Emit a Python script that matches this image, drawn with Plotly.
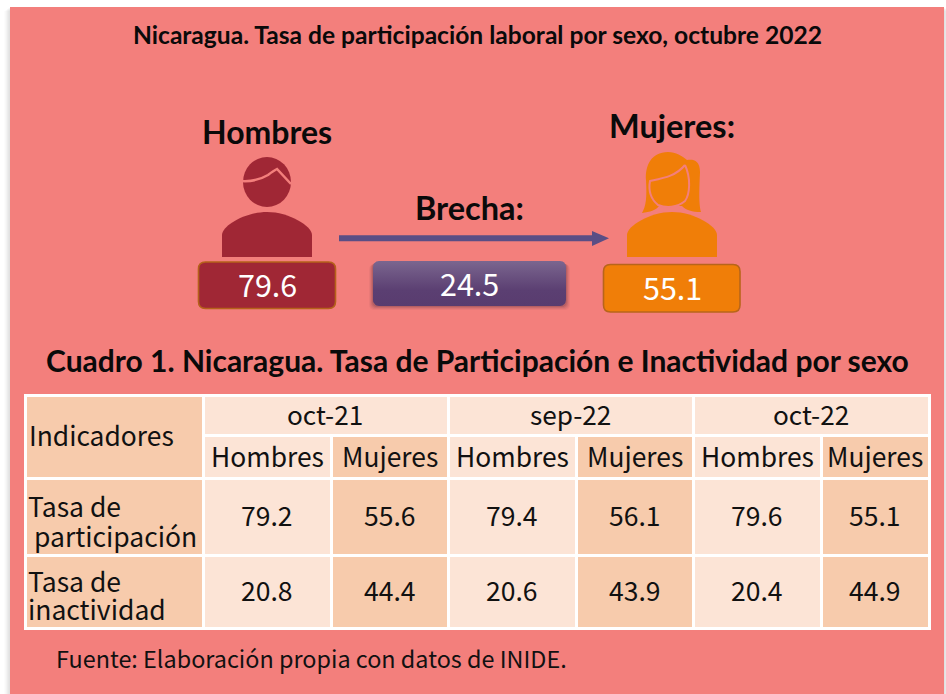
import numpy as np
import plotly.graph_objects as go

TITLE = "Nicaragua. Tasa de participación laboral por sexo, octubre 2022"
HEADING = "Cuadro 1. Nicaragua. Tasa de Participación e Inactividad por sexo"
SOURCE = "Fuente: Elaboración propia con datos de INIDE."
FIG_LABELS = ["Hombres", "Brecha:", "Mujeres:"]
FIG_VALUES = ["79.6", "24.5", "55.1"]
PERIODS = ["oct-21", "sep-22", "oct-22"]
SEXES = ["Hombres", "Mujeres"]
CORNER = "Indicadores"
ROW_LABELS = [["Tasa de", " participación"], ["Tasa de", "inactividad"]]
PARTICIPATION = ["79.2", "55.6", "79.4", "56.1", "79.6", "55.1"]
INACTIVITY = ["20.8", "44.4", "20.6", "43.9", "20.4", "44.9"]

BG = "#F37F7C"
DARK = "#F7CBAC"
LIGHT = "#FCE4D6"
RED = "#A02735"
ORANGE = "#F07E08"
PURPLE = "#5A4E85"
BODY_FONT = "Noto Sans CJK JP"
BOLD_FONT = "Lato"

shapes, ann = [], []


def rect(x0, y0, x1, y1, fill, line=None, lw=0):
    shapes.append(dict(type="rect", x0=x0, y0=y0, x1=x1, y1=y1, fillcolor=fill,
                       line=dict(color=line or fill, width=lw), layer="below"))


def path(d, fill="rgba(0,0,0,0)", line=None, lw=0):
    shapes.append(dict(type="path", path=d, fillcolor=fill,
                       line=dict(color=line or "rgba(0,0,0,0)", width=lw), layer="below"))


def rounded(x0, y0, x1, y1, r):
    return (f"M{x0+r},{y0} L{x1-r},{y0} Q{x1},{y0} {x1},{y0+r} L{x1},{y1-r} Q{x1},{y1} {x1-r},{y1} "
            f"L{x0+r},{y1} Q{x0},{y1} {x0},{y1-r} L{x0},{y0+r} Q{x0},{y0} {x0+r},{y0} Z")


def text(x, y, s, size, color="#111111", family=BODY_FONT, bold=False, anchor="center"):
    ann.append(dict(x=x, y=y, text=f"<b>{s}</b>" if bold else s, showarrow=False, xanchor=anchor,
                    yanchor="middle", font=dict(size=size, color=color, family=family), align="left"))


# page panel with soft shadow
for i, a in enumerate([0.03, 0.04, 0.05, 0.06]):
    rect(10 - (4 - i) * 1.4, 7 + (4 - i), 944 + (4 - i) * 1.4, 694, f"rgba(80,80,80,{a})")
rect(10, 7, 944, 694, BG)

text(477, 34, TITLE, 24.6, "#0a0a0a", BOLD_FONT, True)

# man icon
path("M222,257 L222,235 C222,226 245,212 267,212 C289,212 312,226 312,235 L312,257 Z", RED)
shapes.append(dict(type="circle", x0=243, y0=157, x1=291, y1=207, fillcolor=RED,
                   line=dict(width=0), layer="below"))
path("M241,181 C255,182 263,178 268,175 C272,172 275,170 277,169 L291,184", line=BG, lw=2.5)

# woman icon
path("M627,257 L627,235 C627,226 650,212 672,212 C694,212 717,226 717,235 L717,257 Z", ORANGE)
path("M668,152 C651,152 645,166 646,180 C647,198 646,206 642,213 C650,212 656,210 659,206 "
     "L682,206 C686,210 692,212 701,212 C699,204 699,194 700,172 C700,160 693,159 687,160 "
     "C682,156 676,152 668,152 Z", ORANGE)
path("M685,165 C676,176 664,178 650,181 C648,192 652,200 658,205 C666,208 677,208 685,201 "
     "C690,194 691,178 685,165", line=BG, lw=2)

# arrow
rect(339, 235.3, 594, 241.3, PURPLE)
path("M592,231 L609,238.3 L592,246 Z", PURPLE)

# value boxes
path(rounded(198.5, 262, 335.5, 308.5, 7), RED, "#B5611A", 1.6)
path(rounded(603.5, 264.5, 740, 312, 7), ORANGE, "#B8651A", 1.6)
for i, a in enumerate([0.05, 0.07, 0.10, 0.14]):
    d = 4 - i
    path(rounded(373 - d, 262 + d * 0.5, 566 + d, 306 + d, 6), f"rgba(60,30,50,{a})")

# purple box as a gradient-filled rounded outline
box_t = np.linspace(0, np.pi / 2, 8)
bx0, by0, bx1, by1, br = 373, 261, 566, 306, 6
box_x = np.concatenate([bx1 - br + br * np.sin(box_t), bx1 - br + br * np.cos(box_t),
                        bx0 + br - br * np.sin(box_t), bx0 + br - br * np.cos(box_t)])
box_y = np.concatenate([by0 + br - br * np.cos(box_t), by1 - br + br * np.sin(box_t),
                        by1 - br + br * np.cos(box_t), by0 + br - br * np.sin(box_t)])
traces = [go.Scatter(x=box_x, y=box_y, mode="lines", fill="toself", line=dict(width=0),
                     hoverinfo="skip", showlegend=False,
                     fillgradient=dict(type="vertical",
                                       colorscale=[[0, "#593C6F"], [0.35, "#5B3F72"], [1, "#7B668F"]]))]

text(267, 131.5, FIG_LABELS[0], 32, "#0a0a0a", BOLD_FONT, True)
text(469.5, 207.5, FIG_LABELS[1], 32.5, "#0a0a0a", BOLD_FONT, True)
text(672, 125.5, FIG_LABELS[2], 32.5, "#0a0a0a", BOLD_FONT, True)
text(267, 284, FIG_VALUES[0], 30.5, "white")
text(469, 283, FIG_VALUES[1], 30.5, "white")
text(672, 287, FIG_VALUES[2], 30.5, "white")

text(477, 359.5, HEADING, 30, "#0a0a0a", BOLD_FONT, True)

# table
rect(24, 394, 931, 630, "white")
col_x = [(205, 330), (333, 447), (450, 575), (578, 692), (695, 820), (823, 928)]
group_x = [(205, 447), (450, 692), (695, 928)]
row_y = [(480, 554), (557, 627)]

rect(27, 397, 202, 477, DARK)
text(27, 434, CORNER, 26.4, anchor="left")
for (g0, g1), period in zip(group_x, PERIODS):
    rect(g0, 397, g1, 434, LIGHT)
    text((g0 + g1) / 2 - 1, 413.5, period, 26.2)
for i, (c0, c1) in enumerate(col_x):
    fill = LIGHT if i % 2 == 0 else DARK
    rect(c0, 437, c1, 477, fill)
    text((c0 + c1) / 2 - 0.5, 455, SEXES[i % 2], 26.4)
for (r0, r1), values, labels, ly in zip(row_y, [PARTICIPATION, INACTIVITY], ROW_LABELS,
                                        [(505, 535), (580, 608)]):
    rect(27, r0, 202, r1, DARK)
    for lab, y in zip(labels, ly):
        text(32 if lab.startswith(" ") else 26, y, lab.strip(), 26.5, anchor="left")
    for i, ((c0, c1), v) in enumerate(zip(col_x, values)):
        rect(c0, r0, c1, r1, LIGHT if i % 2 == 0 else DARK)
        text((c0 + c1) / 2 - 0.5, (r0 + r1) / 2 - 2.5, v, 26.5)

text(54, 658, SOURCE, 23.4, anchor="left")

fig = go.Figure(traces)
fig.update_layout(
    width=946, height=694, margin=dict(l=0, r=0, t=0, b=0),
    paper_bgcolor="white", plot_bgcolor="white", showlegend=False,
    xaxis=dict(range=[0, 946], visible=False, fixedrange=True),
    yaxis=dict(range=[694, 0], visible=False, fixedrange=True),
    shapes=shapes, annotations=ann,
)
fig.write_html("out.html", config=dict(displayModeBar=False),
               post_script="document.body.style.margin='0';document.body.style.overflow='hidden';")
